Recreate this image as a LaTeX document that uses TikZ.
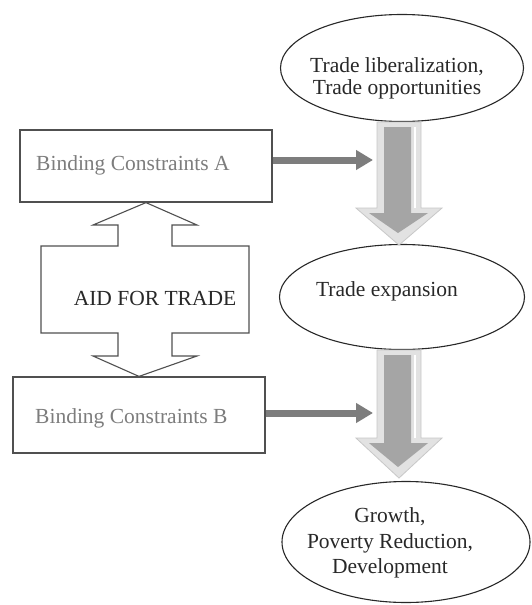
\documentclass[tikz,border=0pt]{standalone}
\usepackage{fontspec}
\setmainfont{Liberation Serif}
\usetikzlibrary{arrows.meta,shapes.geometric}
\definecolor{txtdark}{RGB}{40,40,40}
\definecolor{txtgray}{RGB}{125,125,125}
\definecolor{linegray}{RGB}{80,80,80}
\definecolor{arrgray}{RGB}{125,125,125}
\definecolor{bigout}{RGB}{226,226,226}
\definecolor{bigoutline}{RGB}{200,200,200}
\definecolor{bigin}{RGB}{165,165,165}
\tikzset{
  ell/.style={ellipse,draw=txtdark,line width=1.1pt,inner sep=0pt},
  boxnode/.style={rectangle,draw=linegray,line width=1.2pt,inner sep=0pt},
  elltext/.style={text=txtdark,align=center,inner sep=0pt,font=\fontsize{21.5}{22}\selectfont},
  bindtext/.style={text=txtgray,inner sep=0pt,font=\fontsize{21.5}{22}\selectfont},
  sidearrow/.style={draw=arrgray,line width=7pt,-{Triangle[length=17pt,width=19pt]}},
  bigouter/.style={fill=bigout,draw=bigoutline,line width=0.8pt,line join=miter},
  biginner/.style={fill=bigin,draw=none},
}
\begin{document}
\begin{tikzpicture}[x=1pt,y=-1pt]
\useasboundingbox[fill=white] (0,0) rectangle (532,605);

% ellipses
\node[ell,minimum width=243pt,minimum height=107pt] (e1) at (402,68) {};
\node[ell,minimum width=245pt,minimum height=105pt] (e2) at (402,297) {};
\node[ell,minimum width=248pt,minimum height=121pt] (e3) at (406,542) {};

\node[elltext,anchor=north] (t1) at (397,57) {Trade liberalization,\\Trade opportunities};
\node[elltext,anchor=base] (t2) at (387,296) {Trade expansion};
\node[elltext,anchor=north,font=\fontsize{21.5}{25.5}\selectfont] (t3) at (390,507.5) {Growth,\\Poverty Reduction,\\Development};

% boxes
\node[boxnode,minimum width=252pt,minimum height=72pt] (bA) at (146,166) {};
\node[boxnode,minimum width=252pt,minimum height=76pt] (bB) at (139,415) {};
\node[bindtext,anchor=base west] (tA) at (36,170) {Binding Constraints A};
\node[bindtext,anchor=base west] (tB) at (35,423) {Binding Constraints B};

% aid for trade double arrow
\draw[draw=linegray,line width=1.1pt,fill=white,line join=miter]
  (bA.south) -- (197,225) -- (172,225) -- (172,246) -- (249,246) -- (249,333)
  -- (172,333) -- (172,356) -- (197,356) -- (bB.north) -- (93,356) -- (118,356)
  -- (118,333) -- (41,333) -- (41,246) -- (118,246) -- (118,225) -- (93,225) -- cycle;
\node[elltext,anchor=base] (aid) at (155,305) {AID FOR TRADE};

% side arrows
\coordinate (aT) at (373,160);
\coordinate (bT) at (373,413);
\draw[sidearrow] (bA.east |- aT) -- (aT);
\draw[sidearrow] (bB.east |- bT) -- (bT);

% big arrow 1
\begin{scope}[shift={(e1.south)}]
  \path[bigouter] (-25,0) -- (19,0) -- (19,86) -- (40,86) -- (-3,123) -- (-46,86) -- (-25,86) -- cycle;
  \path[biginner] (-18,5) -- (9,5) -- (9,91) -- (26,91) -- (-4,111) -- (-33,91) -- (-18,91) -- cycle;
  \draw[white,line width=1.3pt] (13,5) -- (13,86);
\end{scope}
% big arrow 2
\begin{scope}[shift={(e2.south)}]
  \path[bigouter] (-25,0) -- (19,0) -- (19,88) -- (40,88) -- (-3,128) -- (-46,88) -- (-25,88) -- cycle;
  \path[biginner] (-18,5) -- (9,5) -- (9,93) -- (26,93) -- (-4,117) -- (-33,93) -- (-18,93) -- cycle;
  \draw[white,line width=1.3pt] (13,5) -- (13,88);
\end{scope}
\end{tikzpicture}
\end{document}
